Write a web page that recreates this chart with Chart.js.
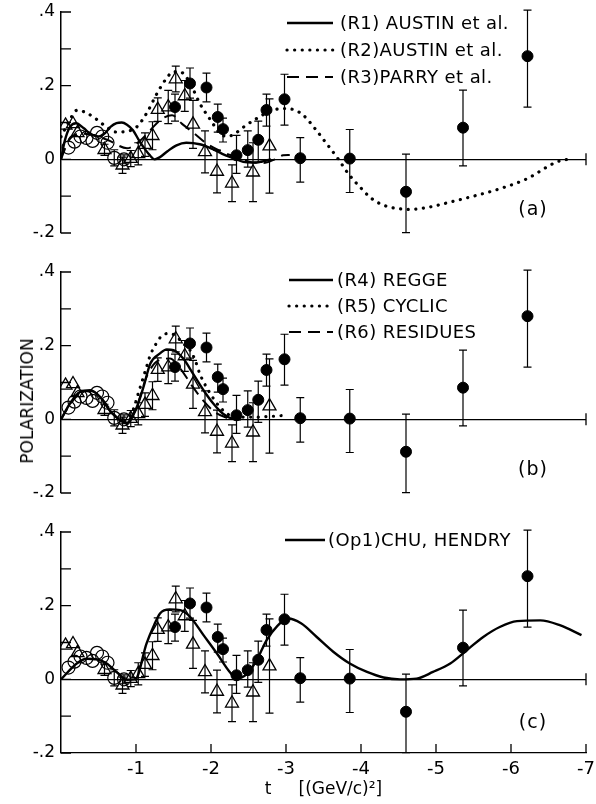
<!DOCTYPE html>
<html>
<head>
<meta charset="utf-8">
<script src="https://cdn.jsdelivr.net/npm/chart.js@4.4.1/dist/chart.umd.min.js"></script>
<style>
  body { margin: 0; background: #fff; width: 596px; height: 804px; position: relative; overflow: hidden; font-family: "DejaVu Sans", sans-serif; }
  .panel { position: absolute; left: 0; width: 596px; }
  #ytitle { position: absolute; left: 27px; top: 401px; transform: translate(-50%, -50%) rotate(-90deg); font-size: 17px; white-space: nowrap; color: #000; }
</style>
</head>
<body>
<div class="panel" style="top:0;height:260px"><canvas id="pa"></canvas></div>
<div class="panel" style="top:260px;height:260px"><canvas id="pb"></canvas></div>
<div class="panel" style="top:520px;height:284px"><canvas id="pc"></canvas></div>
<div id="ytitle">POLARIZATION</div>
<script>
// experimental points, same in all three panels
const triT   = [-0.06, -0.16, -0.22, -0.58, -0.82, -0.93, -1.03, -1.12, -1.22, -1.29, -1.43, -1.53, -1.65, -1.76, -1.92, -2.08, -2.28, -2.56, -2.78];
const triP   = [0.092, 0.096, 0.072, 0.026, -0.016, 0.002, 0.015, 0.040, 0.064, 0.135, 0.142, 0.218, 0.172, 0.095, 0.020, -0.033, -0.065, -0.035, 0.036];
const triErr = [0, 0, 0, 0.015, 0.022, 0.022, 0.03, 0.032, 0.038, 0.032, 0.045, 0.035, 0.042, 0.065, 0.057, 0.058, 0.05, 0.08, 0.128];

const circT   = [-0.10, -0.18, -0.26, -0.34, -0.42, -0.48, -0.55, -0.62, -0.71, -0.84];
const circP   = [0.032, 0.048, 0.062, 0.058, 0.050, 0.072, 0.062, 0.045, 0.004, 0.0];
const circErr = [0, 0, 0, 0, 0, 0, 0, 0, 0.022, 0.012];

const dotT  = [-1.52, -1.72, -1.94, -2.09, -2.16, -2.34, -2.49, -2.63, -2.74, -2.98, -3.19, -3.85, -4.60, -5.36, -6.22];
const dotP  = [0.142, 0.206, 0.195, 0.115, 0.082, 0.011, 0.025, 0.053, 0.134, 0.163, 0.003, 0.002, -0.088, 0.086, 0.280];
const dotLo = [0.104, 0.166, 0.156, 0.074, 0.047, -0.038, -0.021, -0.008, 0.090, 0.093, -0.062, -0.090, -0.199, -0.018, 0.142];
const dotHi = [0.177, 0.248, 0.234, 0.150, 0.112, 0.065, 0.077, 0.104, 0.177, 0.231, 0.059, 0.081, 0.014, 0.188, 0.405];

// (a) curves
const r1T = [0, -0.05, -0.12, -0.2, -0.3, -0.4, -0.5, -0.58, -0.66, -0.74, -0.81, -0.88, -0.96, -1.03, -1.1, -1.18, -1.25, -1.32, -1.42, -1.54, -1.67, -1.85, -2.0, -2.15, -2.3, -2.43, -2.56, -2.7, -2.8];
const r1P = [0, 0.05, 0.088, 0.098, 0.085, 0.068, 0.062, 0.07, 0.088, 0.098, 0.1, 0.094, 0.079, 0.055, 0.033, 0.012, 0.0, 0.006, 0.022, 0.038, 0.045, 0.041, 0.03, 0.015, 0.003, -0.007, -0.009, -0.005, 0];
const r2T = [0, -0.1, -0.21, -0.32, -0.43, -0.58, -0.74, -0.88, -1.01, -1.15, -1.28, -1.4, -1.5, -1.58, -1.65, -1.75, -1.85, -2.0, -2.12, -2.22, -2.32, -2.45, -2.61, -2.78, -2.96, -3.1, -3.23, -3.38, -3.54, -3.7, -3.83, -4.0, -4.12, -4.25, -4.39, -4.65, -4.9, -5.19, -5.5, -5.85, -6.21, -6.61, -6.75];
const r2P = [0.061, 0.1, 0.133, 0.128, 0.115, 0.092, 0.074, 0.076, 0.088, 0.128, 0.179, 0.218, 0.238, 0.238, 0.229, 0.195, 0.152, 0.105, 0.07, 0.062, 0.07, 0.09, 0.111, 0.13, 0.138, 0.135, 0.12, 0.085, 0.043, 0.0, -0.039, -0.078, -0.103, -0.12, -0.13, -0.136, -0.13, -0.116, -0.1, -0.08, -0.053, -0.007, 0.0];
const r3T = [0, -0.1, -0.25, -0.45, -0.65, -0.88, -1.05, -1.19, -1.32, -1.48, -1.61, -1.78, -1.94, -2.15, -2.34, -2.52, -2.7, -2.85, -2.96, -3.05];
const r3P = [0, 0.05, 0.07, 0.065, 0.05, 0.03, 0.05, 0.079, 0.106, 0.12, 0.097, 0.07, 0.043, 0.02, 0.006, -0.007, -0.01, 0.0, 0.011, 0.012];

// (b) curves
const r4T = [0, -0.12, -0.25, -0.39, -0.52, -0.65, -0.79, -0.88, -1.01, -1.1, -1.19, -1.32, -1.41, -1.5, -1.63, -1.76, -1.9, -2.03, -2.16, -2.28, -2.4];
const r4P = [0, 0.043, 0.074, 0.079, 0.061, 0.024, -0.003, -0.01, 0.033, 0.088, 0.151, 0.179, 0.19, 0.188, 0.165, 0.124, 0.079, 0.043, 0.015, 0.002, 0];
const r5T = [-0.85, -0.95, -1.03, -1.14, -1.19, -1.27, -1.34, -1.43, -1.52, -1.63, -1.72, -1.79, -1.85, -1.99, -2.12, -2.25, -2.4, -2.6, -2.8, -2.95];
const r5P = [-0.005, 0.02, 0.07, 0.142, 0.174, 0.206, 0.226, 0.233, 0.228, 0.206, 0.188, 0.16, 0.124, 0.07, 0.033, 0.011, 0.006, 0.006, 0.008, 0.01];
const r6T = [0, -0.12, -0.25, -0.4, -0.55, -0.7, -0.85, -1.0, -1.15, -1.3, -1.45, -1.6, -1.75, -1.9, -2.05, -2.2, -2.3];
const r6P = [0, 0.04, 0.07, 0.077, 0.055, 0.015, -0.008, 0.03, 0.12, 0.16, 0.165, 0.135, 0.09, 0.05, 0.02, 0.005, 0];

// (c) curve
const op1T = [0, -0.21, -0.34, -0.48, -0.61, -0.74, -0.88, -0.99, -1.14, -1.23, -1.32, -1.45, -1.59, -1.72, -1.9, -2.08, -2.25, -2.34, -2.48, -2.61, -2.74, -2.88, -3.03, -3.2, -3.41, -3.63, -3.85, -4.08, -4.3, -4.52, -4.74, -4.96, -5.19, -5.41, -5.63, -5.85, -6.08, -6.39, -6.65, -6.94];
const op1P = [0, 0.043, 0.056, 0.054, 0.043, 0.02, -0.001, 0.0, 0.097, 0.142, 0.179, 0.19, 0.188, 0.17, 0.12, 0.07, 0.02, 0.002, 0.015, 0.052, 0.106, 0.144, 0.165, 0.152, 0.115, 0.075, 0.043, 0.02, 0.005, 0.0, 0.002, 0.02, 0.043, 0.079, 0.115, 0.142, 0.158, 0.16, 0.147, 0.12];

// axis labels
const yLabelVals = [0.4, 0.2, 0, -0.2];
const yLabelText = ['.4', '.2', '0', '-.2'];
const xTickVals  = [-1, -2, -3, -4, -5, -6, -7];

const FONT = '"DejaVu Sans", sans-serif';

function pts(ts, ps, lo, hi) {
  return ts.map((t, i) => ({ x: t, y: ps[i], lo: lo ? lo[i] : null, hi: hi ? hi[i] : null }));
}
function sym(ts, ps, err) {
  return pts(ts, ps, ps.map((p, i) => p - err[i]), ps.map((p, i) => p + err[i]));
}

function markers() {
  return [
    { data: pts(dotT, dotP, dotLo, dotHi), errors: true, pointStyle: 'circle', pointRadius: 5.5,
      backgroundColor: '#000', borderColor: '#000', pointBorderWidth: 1 },
    { data: sym(triT, triP, triErr), errors: true, pointStyle: 'triangle', pointRadius: 7.5,
      backgroundColor: 'rgba(0,0,0,0)', borderColor: '#000', pointBorderWidth: 1.3 },
    { data: sym(circT, circP, circErr), errors: true, pointStyle: 'circle', pointRadius: 6.5,
      backgroundColor: 'rgba(0,0,0,0)', borderColor: '#000', pointBorderWidth: 1.2 }
  ];
}

function curve(label, t, p, kind) {
  const ds = { label: label, data: pts(t, p), showLine: true, legend: true, pointRadius: 0,
    borderColor: '#000', cubicInterpolationMode: 'monotone', borderWidth: 2.4, borderDash: [], borderCapStyle: 'butt' };
  if (kind === 'dot') { ds.borderDash = [0.1, 7.5]; ds.borderWidth = 3.2; ds.borderCapStyle = 'round'; }
  if (kind === 'dash') { ds.borderDash = [12, 7]; ds.borderWidth = 2; }
  return ds;
}

const errorBars = {
  id: 'errorBars',
  beforeDatasetsDraw(chart) {
    const { ctx, scales: { x, y } } = chart;
    ctx.save();
    ctx.strokeStyle = '#000';
    ctx.lineWidth = 1.2;
    chart.data.datasets.forEach(ds => {
      if (!ds.errors) return;
      ds.data.forEach(p => {
        if (p.lo == null || p.hi - p.lo <= 0) return;
        const px = x.getPixelForValue(p.x);
        const y0 = y.getPixelForValue(p.lo), y1 = y.getPixelForValue(p.hi);
        ctx.beginPath();
        ctx.moveTo(px, y0); ctx.lineTo(px, y1);
        ctx.moveTo(px - 4, y0); ctx.lineTo(px + 4, y0);
        ctx.moveTo(px - 4, y1); ctx.lineTo(px + 4, y1);
        ctx.stroke();
      });
    });
    ctx.restore();
  }
};

const frame = {
  id: 'frame',
  afterDraw(chart, args, o) {
    const { ctx, chartArea: a, scales: { x, y } } = chart;
    ctx.save();
    ctx.strokeStyle = '#000';
    ctx.lineWidth = 1.3;
    ctx.beginPath();
    y.ticks.forEach(t => {
      const py = y.getPixelForValue(t.value);
      ctx.moveTo(a.left, py); ctx.lineTo(a.left + 10, py);
    });
    const xr = x.getPixelForValue(-7), yz = y.getPixelForValue(0);
    ctx.moveTo(xr, yz - 6); ctx.lineTo(xr, yz + 6);
    if (o.bottomTicks) {
      xTickVals.forEach(v => {
        const px = x.getPixelForValue(v);
        ctx.moveTo(px, a.bottom); ctx.lineTo(px, a.bottom - 9);
      });
    }
    ctx.stroke();

    // legend, drawn from the curve datasets
    ctx.font = '18px ' + FONT;
    ctx.letterSpacing = '0.4px';
    ctx.fillStyle = '#000';
    ctx.textBaseline = 'middle';
    let row = 0;
    chart.data.datasets.forEach(ds => {
      if (!ds.legend) return;
      const ly = o.legend.y + row * o.legend.dy;
      ctx.beginPath();
      ctx.lineWidth = ds.borderWidth;
      ctx.setLineDash(ds.borderDash);
      ctx.lineCap = ds.borderCapStyle;
      ctx.moveTo(o.legend.x0, ly); ctx.lineTo(o.legend.x1, ly);
      ctx.stroke();
      ctx.setLineDash([]);
      ctx.fillText(ds.label, o.legend.tx, ly + 1);
      row++;
    });

    ctx.font = '19px ' + FONT;
    ctx.letterSpacing = '1px';
    ctx.textAlign = 'center';
    ctx.fillText(o.tag, a.right - 53, a.bottom - o.tagUp);
    ctx.restore();
  }
};

function makePanel(id, datasets, opt) {
  const withX = !!opt.bottomTicks;
  new Chart(document.getElementById(id), {
    type: 'scatter',
    data: { datasets: datasets },
    options: {
      responsive: true,
      maintainAspectRatio: false,
      animation: false,
      layout: { padding: { top: 12, right: 10, left: 0, bottom: withX ? 1 : 27 } },
      plugins: { legend: { display: false }, tooltip: { enabled: false }, frame: opt },
      scales: {
        x: {
          type: 'linear', min: -7, max: 0, reverse: true, display: withX,
          afterFit: s => { if (withX) s.height = 50; s.paddingLeft = 0; s.paddingRight = 0; },
          border: { display: true, color: '#000', width: 1.3 },
          grid: { drawTicks: false, color: 'rgba(0,0,0,0)' },
          ticks: {
            stepSize: 1, padding: 6, color: '#000', font: { family: FONT, size: 18 },
            callback: v => (v === 0 ? '' : String(v))
          },
          title: {
            display: withX, text: 't     [(GeV/c)\u00B2]', color: '#000',
            font: { family: FONT, size: 17 }, padding: { top: 0, bottom: 3 }
          }
        },
        y: {
          min: -0.2, max: 0.4,
          afterFit: s => { s.width = 61; s.paddingTop = 0; s.paddingBottom = 0; },
          border: { display: true, color: '#000', width: 1.5 },
          grid: {
            drawTicks: false,
            color: c => (Math.abs(c.tick.value) < 1e-9 ? '#000' : 'rgba(0,0,0,0)'),
            lineWidth: 1.2
          },
          ticks: {
            stepSize: 0.1, padding: 6, color: '#000', font: { family: FONT, size: 17 },
            callback: v => {
              const i = yLabelVals.findIndex(w => Math.abs(w - v) < 1e-9);
              return i < 0 ? '' : yLabelText[i];
            }
          }
        }
      }
    },
    plugins: [errorBars, frame]
  });
}

makePanel('pa', markers().concat([
  curve('(R1) AUSTIN et al.', r1T, r1P, 'solid'),
  curve('(R2)AUSTIN et al.', r2T, r2P, 'dot'),
  curve('(R3)PARRY et al.', r3T, r3P, 'dash')
]), { tag: '(a)', tagUp: 23, legend: { x0: 287, x1: 333, tx: 340, y: 23, dy: 27 } });

makePanel('pb', markers().concat([
  curve('(R4) REGGE', r4T, r4P, 'solid'),
  curve('(R5) CYCLIC', r5T, r5P, 'dot'),
  curve('(R6) RESIDUES', r6T, r6P, 'dash')
]), { tag: '(b)', tagUp: 23, legend: { x0: 289, x1: 333, tx: 337, y: 20, dy: 26 } });

makePanel('pc', markers().concat([
  curve('(Op1)CHU, HENDRY', op1T, op1P, 'solid')
]), { tag: '(c)', tagUp: 30, bottomTicks: true, legend: { x0: 285, x1: 325, tx: 328, y: 20, dy: 26 } });
</script>
</body>
</html>
